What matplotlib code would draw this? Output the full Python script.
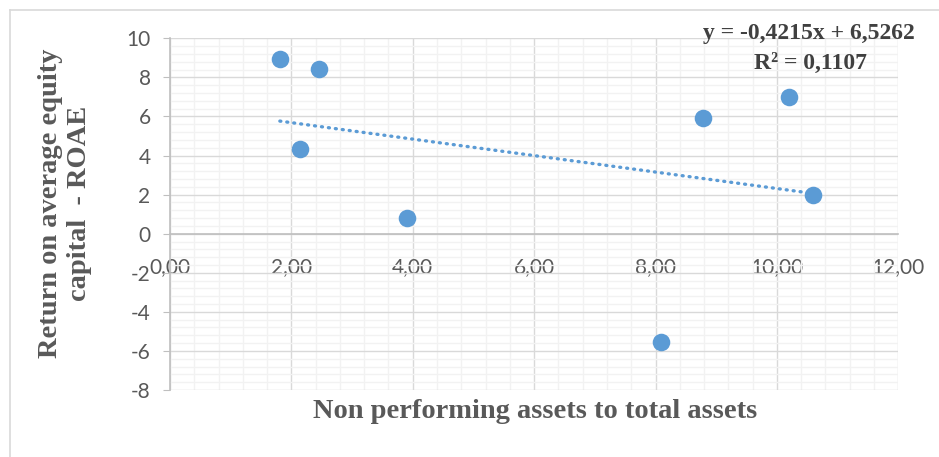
import matplotlib
matplotlib.use("Agg")
import matplotlib.pyplot as plt
from matplotlib.lines import Line2D
from matplotlib.ticker import MultipleLocator, FuncFormatter

# Non performing assets to total assets (%) vs. ROAE (%)
npa_ratio = [1.81, 2.46, 2.15, 3.90, 8.79, 10.20, 10.60, 8.09]
roae = [8.95, 8.43, 4.34, 0.82, 5.90, 7.00, 2.00, -5.52]

# Linear trendline reported on the chart
slope = -0.4215
intercept = 6.5262
r_squared = 0.1107

x_title = "Non performing assets to total assets"
y_title = "Return on average equity\ncapital  - ROAE"

W, H = 939, 457
fig = plt.figure(figsize=(W / 100, H / 100), dpi=100)
ax = fig.add_axes([170 / W, 1 - 390 / H, (898.3 - 170) / W, (390 - 38.3) / H])

blue = "#5b9bd5"
text_grey = "#595959"
tick_font = "Lato"
title_font = ["Liberation Serif", "DejaVu Serif"]

ax.set_xlim(0, 12)
ax.set_ylim(-8, 10)
ax.xaxis.set_major_locator(MultipleLocator(2))
ax.xaxis.set_minor_locator(MultipleLocator(0.4))
ax.yaxis.set_major_locator(MultipleLocator(2))
ax.yaxis.set_minor_locator(MultipleLocator(0.4))
ax.xaxis.set_major_formatter(FuncFormatter(lambda v, p: f"{v:.2f}".replace(".", ",")))
ax.yaxis.set_major_formatter(FuncFormatter(lambda v, p: f"{v:.0f}"))

ax.grid(which="minor", color="#f2f2f2", linewidth=1.0, zorder=0)
ax.grid(which="major", color="#d9d9d9", linewidth=1.0, zorder=0)
ax.set_axisbelow(True)

for s in ["top", "right"]:
    ax.spines[s].set_visible(False)
ax.spines["left"].set_color("#bfbfbf")
ax.spines["left"].set_linewidth(1.2)

# Horizontal axis runs through y = 0 with its labels beneath
ax.spines["bottom"].set_position(("data", 0))
ax.spines["bottom"].set_color("#bfbfbf")
ax.spines["bottom"].set_linewidth(1.2)
ax.xaxis.set_ticks_position("bottom")
ax.tick_params(axis="x", which="both", length=0, pad=17, labelsize=15,
               labelcolor=text_grey)
ax.tick_params(axis="y", which="major", length=5, color="#bfbfbf", pad=9,
               labelsize=15, labelcolor=text_grey)
ax.tick_params(axis="y", which="minor", length=0)
for lab in ax.get_xticklabels() + ax.get_yticklabels():
    lab.set_fontfamily(tick_font)

ax.scatter(npa_ratio, roae, s=160, color=blue, zorder=4, linewidths=0)

x0, x1 = min(npa_ratio), max(npa_ratio)
ax.plot([x0, x1], [slope * x0 + intercept, slope * x1 + intercept],
        color=blue, linewidth=2.4, linestyle=(0, (0.3, 1.8)),
        dash_capstyle="round", zorder=3)

eq = f"y = {slope:.4f}x + {intercept:.4f}".replace(".", ",")
fig.text(809 / W, 1 - 33 / H, eq, ha="center", va="center", fontsize=17,
         fontweight="bold", color="#404040", family=title_font)
fig.text(810 / W, 1 - 63 / H, f"R² = {r_squared:.4f}".replace(".", ","),
         ha="center", va="center", fontsize=17, fontweight="bold",
         color="#404040", family=title_font)

fig.text(535 / W, 1 - 412 / H, x_title, ha="center", va="center", fontsize=20.5,
         fontweight="bold", color=text_grey, family=title_font)
fig.text(65 / W, 1 - 203 / H, y_title, ha="center", va="center", fontsize=20.5,
         fontweight="bold", color=text_grey, family=title_font, rotation=90,
         linespacing=1.25)

# Chart area border (left and top edges)
fig.add_artist(Line2D([9.5 / W, 9.5 / W], [0, 1 - 9.5 / H], transform=fig.transFigure,
                      color="#d9d9d9", linewidth=1.2))
fig.add_artist(Line2D([9.5 / W, 1], [1 - 9.5 / H, 1 - 9.5 / H], transform=fig.transFigure,
                      color="#d9d9d9", linewidth=1.2))

fig.savefig("out.png", dpi=100, facecolor="white")
